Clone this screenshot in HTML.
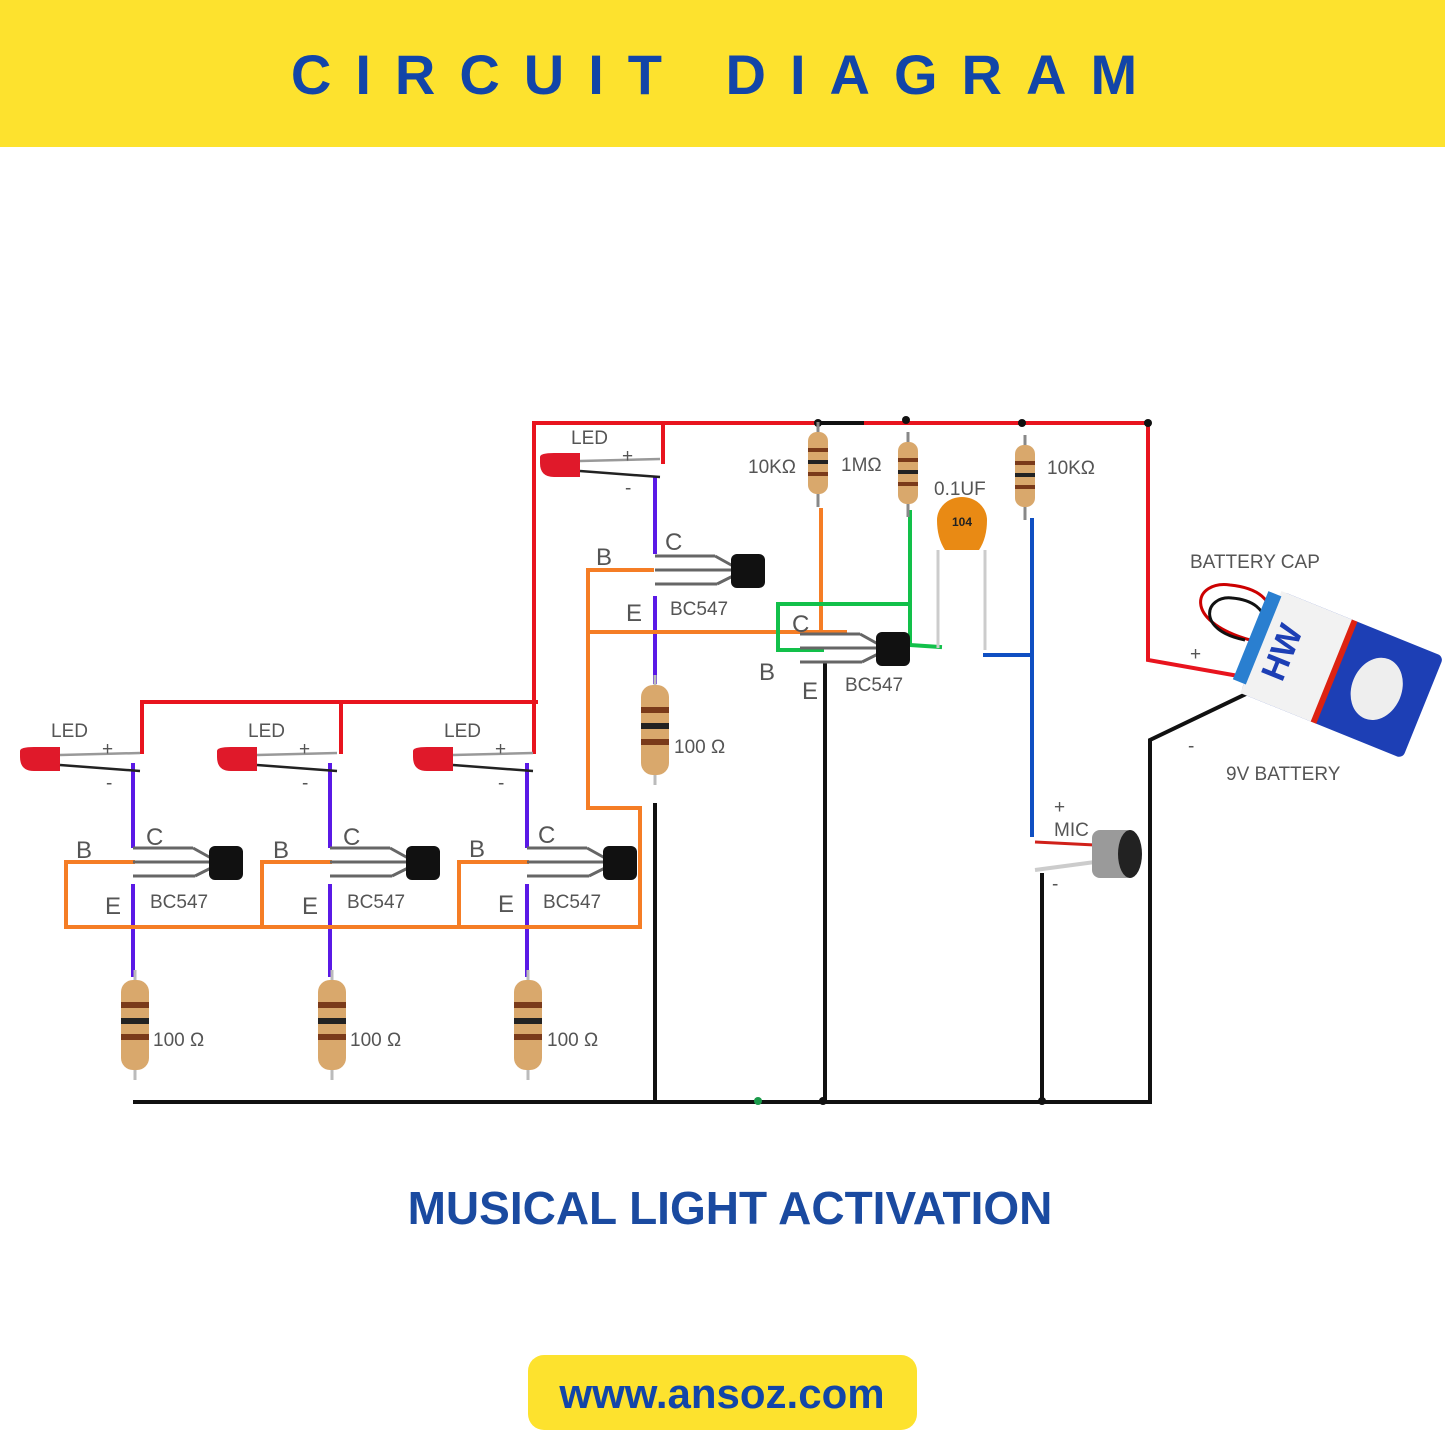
<!DOCTYPE html>
<html><head><meta charset="utf-8"><style>
html,body{margin:0;padding:0;background:#fff}
svg{display:block}
text{font-family:"Liberation Sans",sans-serif}
</style></head><body>
<svg width="1445" height="1445" viewBox="0 0 1445 1445" xmlns="http://www.w3.org/2000/svg">
<defs>
<g id="res">
 <line x1="0" y1="-10" x2="0" y2="100" stroke="#bbb" stroke-width="3"/>
 <rect x="-14" y="0" width="28" height="90" rx="12" fill="#d9a86c"/>
 <rect x="-14" y="22" width="28" height="6" fill="#7a3a1a"/>
 <rect x="-14" y="38" width="28" height="6" fill="#222"/>
 <rect x="-14" y="54" width="28" height="6" fill="#7a3a1a"/>
</g>
<g id="resS">
 <line x1="0" y1="-10" x2="0" y2="75" stroke="#888" stroke-width="3"/>
 <rect x="-10" y="0" width="20" height="62" rx="9" fill="#d9a86c"/>
 <rect x="-10" y="16" width="20" height="4" fill="#7a3a1a"/>
 <rect x="-10" y="28" width="20" height="4" fill="#222"/>
 <rect x="-10" y="40" width="20" height="4" fill="#7a3a1a"/>
</g>
<g id="tr">
 <line x1="0" y1="0" x2="60" y2="0" stroke="#666" stroke-width="3"/>
 <line x1="60" y1="0" x2="78" y2="10" stroke="#666" stroke-width="3"/>
 <line x1="0" y1="14" x2="78" y2="14" stroke="#666" stroke-width="3"/>
 <line x1="0" y1="28" x2="62" y2="28" stroke="#666" stroke-width="3"/>
 <line x1="62" y1="28" x2="78" y2="20" stroke="#666" stroke-width="3"/>
 <rect x="76" y="-2" width="34" height="34" rx="6" fill="#111"/>
</g>
<g id="led">
 <path d="M0,-10 Q0,-14 14,-14 L40,-14 L40,10 L14,10 Q0,10 0,-4Z" fill="#e0192a"/>
 <line x1="40" y1="-6" x2="120" y2="-8" stroke="#999" stroke-width="2.5"/>
 <line x1="40" y1="4" x2="120" y2="10" stroke="#222" stroke-width="2.5"/>
</g>
</defs>
<rect x="0" y="0" width="1445" height="147" fill="#fde22e"/>
<text x="726" y="94" text-anchor="middle" font-size="56" font-weight="bold" fill="#1245a8" letter-spacing="24">CIRCUIT DIAGRAM</text>

<g fill="none" stroke-linecap="square" stroke-width="4">
 <path d="M534,752 V423 H818 M862,423 H1148 V660 L1250,678" stroke="#e8141e"/>
 <path d="M818,423 H862" stroke="#111"/>
 <path d="M663,423 V462" stroke="#e8141e"/>
 <path d="M142,752 V702 H536 M341,702 V752" stroke="#e8141e"/>
 <path d="M135,1102 H1150 V740 L1250,692" stroke="#111"/>
 <path d="M655,805 V1102 M825,665 V1102 M1042,875 V1102" stroke="#111"/>
 <path d="M133,765 V846 M133,886 V975 M330,765 V846 M330,886 V975 M527,765 V846 M527,886 V975 M655,478 V552 M655,598 V682" stroke="#5a19e6"/>
 <path d="M66,862 H133 M66,862 V927 H640 V808 H588 V570 H652 M262,862 V927 M262,862 H330 M459,862 V927 M459,862 H527 M588,632 H845 M821,510 V632" stroke="#f57d25"/>
 <path d="M910,512 V645 L940,647 M910,604 H778 V650 H822" stroke="#12c04a"/>
 <path d="M985,655 H1032 M1032,520 V835" stroke="#0f4fc2"/>
</g>
<line x1="938" y1="550" x2="938" y2="648" stroke="#ccc" stroke-width="3"/>
<line x1="985" y1="550" x2="985" y2="650" stroke="#ccc" stroke-width="3"/>
<path d="M937,520 a25,23 0 0,1 50,0 q0,18 -8,30 l-34,0 q-8,-12 -8,-30z" fill="#e98a14"/>
<text x="962" y="526" text-anchor="middle" font-size="12" font-weight="bold" fill="#222">104</text>
<g fill="#111"><circle cx="818" cy="423" r="4"/><circle cx="906" cy="420" r="4"/><circle cx="1022" cy="423" r="4"/><circle cx="1148" cy="423" r="4"/><circle cx="823" cy="1101" r="4"/><circle cx="1042" cy="1101" r="4"/></g>
<circle cx="758" cy="1101" r="4" fill="#1a9a4a"/>

<use href="#led" x="20" y="761"/><use href="#led" x="217" y="761"/><use href="#led" x="413" y="761"/>
<use href="#led" x="540" y="467"/>
<use href="#tr" x="133" y="848"/><use href="#tr" x="330" y="848"/><use href="#tr" x="527" y="848"/>
<use href="#tr" x="655" y="556"/><use href="#tr" x="800" y="634"/>
<use href="#res" x="135" y="980"/><use href="#res" x="332" y="980"/><use href="#res" x="528" y="980"/>
<use href="#res" x="655" y="685"/>
<use href="#resS" x="818" y="432"/><use href="#resS" x="908" y="442"/><use href="#resS" x="1025" y="445"/>

<path d="M1035,842 L1095,845" stroke="#d0201a" stroke-width="3"/>
<path d="M1035,870 L1095,862" stroke="#ccc" stroke-width="4"/>
<rect x="1092" y="830" width="42" height="48" rx="8" fill="#9a9a9a"/>
<ellipse cx="1130" cy="854" rx="12" ry="24" fill="#222"/>

<path d="M1250,640 C1180,620 1195,580 1230,585 C1260,588 1270,600 1275,620" fill="none" stroke="#c00" stroke-width="3"/>
<path d="M1245,640 C1195,630 1205,595 1232,598 C1255,600 1262,610 1268,622" fill="none" stroke="#111" stroke-width="3"/>
<g transform="translate(1335,672) rotate(22)">
 <rect x="-80" y="-55" width="175" height="110" rx="6" fill="#1d3fb5"/>
 <rect x="-80" y="-55" width="80" height="110" fill="#f2f2f2"/>
 <rect x="-4" y="-55" width="6" height="110" fill="#d21"/>
 <rect x="-92" y="-50" width="14" height="95" fill="#2a7fd0"/>
 <text x="-45" y="30" font-size="34" font-weight="bold" fill="#1d3fb5" transform="rotate(-90 -45 30)">HW</text>
 <ellipse cx="45" cy="0" rx="25" ry="32" fill="#eee"/>
</g>

<g fill="#555" font-size="19">
 <text x="51" y="737">LED</text><text x="248" y="737">LED</text><text x="444" y="737">LED</text><text x="571" y="444">LED</text>
 <text x="102" y="755">+</text><text x="299" y="755">+</text><text x="495" y="755">+</text><text x="622" y="462">+</text>
 <text x="106" y="789">-</text><text x="302" y="789">-</text><text x="498" y="789">-</text><text x="625" y="494">-</text>
 <text x="150" y="908">BC547</text><text x="347" y="908">BC547</text><text x="543" y="908">BC547</text>
 <text x="670" y="615">BC547</text><text x="845" y="691">BC547</text>
 <text x="153" y="1046">100 Ω</text><text x="350" y="1046">100 Ω</text><text x="547" y="1046">100 Ω</text><text x="674" y="753">100 Ω</text>
 <text x="748" y="473">10KΩ</text><text x="841" y="471">1MΩ</text><text x="1047" y="474">10KΩ</text><text x="934" y="495">0.1UF</text>
 <text x="1190" y="568">BATTERY CAP</text><text x="1226" y="780">9V BATTERY</text>
 <text x="1190" y="660">+</text><text x="1188" y="752">-</text>
 <text x="1054" y="813">+</text><text x="1054" y="836">MIC</text><text x="1052" y="890">-</text>
</g>
<g fill="#555" font-size="24">
 <text x="146" y="845">C</text><text x="343" y="845">C</text><text x="538" y="843">C</text><text x="665" y="550">C</text><text x="792" y="632">C</text>
 <text x="76" y="858">B</text><text x="273" y="858">B</text><text x="469" y="857">B</text><text x="596" y="565">B</text><text x="759" y="680">B</text>
 <text x="105" y="914">E</text><text x="302" y="914">E</text><text x="498" y="912">E</text><text x="626" y="621">E</text><text x="802" y="699">E</text>
</g>

<text x="730" y="1224" text-anchor="middle" font-size="46" font-weight="bold" fill="#1a4aa0">MUSICAL LIGHT ACTIVATION</text>
<rect x="528" y="1355" width="389" height="75" rx="16" fill="#fde22e"/>
<text x="722" y="1408" text-anchor="middle" font-size="42" font-weight="bold" fill="#1245a8">www.ansoz.com</text>
</svg>
</body></html>
